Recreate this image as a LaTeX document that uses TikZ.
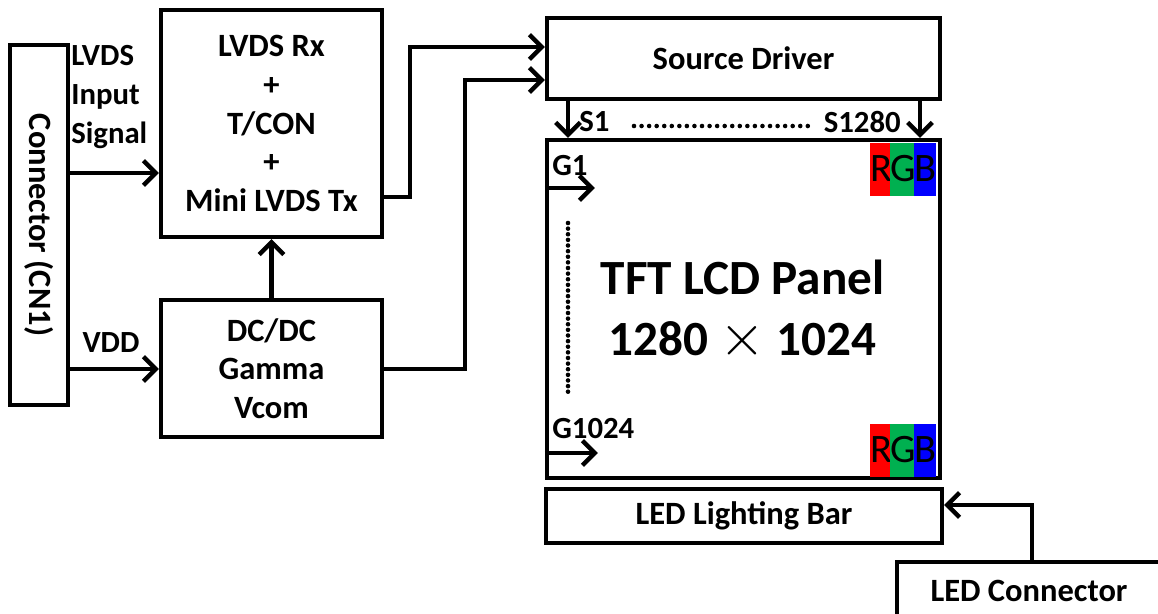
\documentclass[tikz,border=0pt]{standalone}
\usepackage{fontspec}
\setmainfont{Carlito}
\usepackage{tikz}
\usetikzlibrary{positioning, arrows.meta, calc}

\definecolor{pixr}{RGB}{255,0,0}
\definecolor{pixg}{RGB}{0,176,80}
\definecolor{pixb}{RGB}{0,0,255}

\begin{document}
\begin{tikzpicture}[
  font=\bfseries\fontsize{18.5}{22}\selectfont,
  blk/.style={draw, line width=2.5pt, align=center, inner sep=0pt},
  sig/.style={font=\bfseries\fontsize{17.5}{22}\selectfont, inner sep=0pt},
  ttl/.style={font=\bfseries\fontsize{28}{33}\selectfont, inner sep=0pt},
  arr/.style={line width=2.5pt, -{Straight Barb[length=7pt, width=14pt, line width=2.5pt]}},
  dotln/.style={line width=2.6pt, line cap=round, dash pattern=on 0pt off 4.3pt},
  sub/.style={minimum width=0.44cm, minimum height=1.06cm, inner sep=0pt,
              font=\fontsize{23}{23}\selectfont}
]
\clip (0,0) rectangle (23.16,-12.26);

% blocks
\node[blk, minimum width=1.16cm, minimum height=7.2cm] (cn1) at (0.78,-4.5) {};
\node[rotate=-90] at (cn1.center) {Connector (CN1)};
\node[blk, minimum width=4.42cm, minimum height=4.54cm] (rx) at (5.43,-2.47)
  {LVDS Rx\\+\\T/CON\\+\\Mini LVDS Tx};
\node[blk, minimum width=4.42cm, minimum height=2.74cm] (dcdc) at (5.43,-7.37)
  {DC/DC\\Gamma\\Vcom};
\node[blk, minimum width=7.86cm, minimum height=1.62cm] (src) at (14.87,-1.17)
  {Source Driver};
\node[blk, minimum width=7.86cm, minimum height=6.76cm] (panel) at (14.87,-6.18) {};
\node[ttl] (ttl1) at (14.85,-5.54) {TFT LCD Panel};
\node[ttl] (ttl2) at (14.85,-6.82) {1280 \scalebox{1.35}{$\times$} 1024};
\node[blk, minimum width=7.92cm, minimum height=1.08cm] (bar) at (14.88,-10.32)
  {LED Lighting Bar};
\node[blk, minimum width=5.4cm, minimum height=1.16cm] (ledcn) at (20.64,-11.82)
  {\hspace*{-0.06cm}LED Connector\hspace*{0.06cm}};

% sub pixels
\foreach \y in {-3.38, -9.0} {
  \foreach \c/\x/\l in {pixr/17.62/R, pixg/18.06/G, pixb/18.5/B}
    \node[sub, fill=\c] at (\x,\y) {\l};
}

% signal labels
\node[sig, align=left, anchor=west] (lvin) at (1.42,-1.94) {LVDS\\Input\\Signal};
\node[sig] (vdd) at (2.22,-6.86) {VDD};
\node[sig, anchor=west] (s1) at (11.58,-2.44) {S1};
\node[sig, anchor=east] (s1280) at (18.02,-2.44) {S1280};
\node[sig, anchor=west] (g1) at (11.04,-3.32) {G1};
\node[sig, anchor=west] (g1024) at (11.04,-8.58) {G1024};

% dots
\draw[dotln] (12.68,-2.52) -- (16.2,-2.52);
\draw[dotln, dash pattern=on 0pt off 3.2pt] (11.36,-4.46) -- (11.36,-7.9);

% connections
\draw[arr] (cn1.east |- 0,-3.46) -- (rx.west |- 0,-3.46);
\draw[arr] (cn1.east |- 0,-7.38) -- (dcdc.west |- 0,-7.38);
\draw[arr] (dcdc.north) -- (rx.south);
\draw[arr] (rx.east |- 0,-3.94) -| (8.2,-0.94) -- (src.west |- 0,-0.94);
\draw[arr] (dcdc.east |- 0,-7.38) -| (9.3,-1.6) -- (src.west |- 0,-1.6);
\draw[arr] (src.south -| 11.36,0) -- (panel.north -| 11.36,0);
\draw[arr] (src.south -| 18.4,0) -- (panel.north -| 18.4,0);
\draw[arr] (panel.west |- 0,-3.76) -- ++(1.0,0);
\draw[arr] (panel.west |- 0,-9.06) -- ++(1.06,0);
\draw[arr] (ledcn.north) |- (bar.east |- 0,-10.1);
\end{tikzpicture}
\end{document}
